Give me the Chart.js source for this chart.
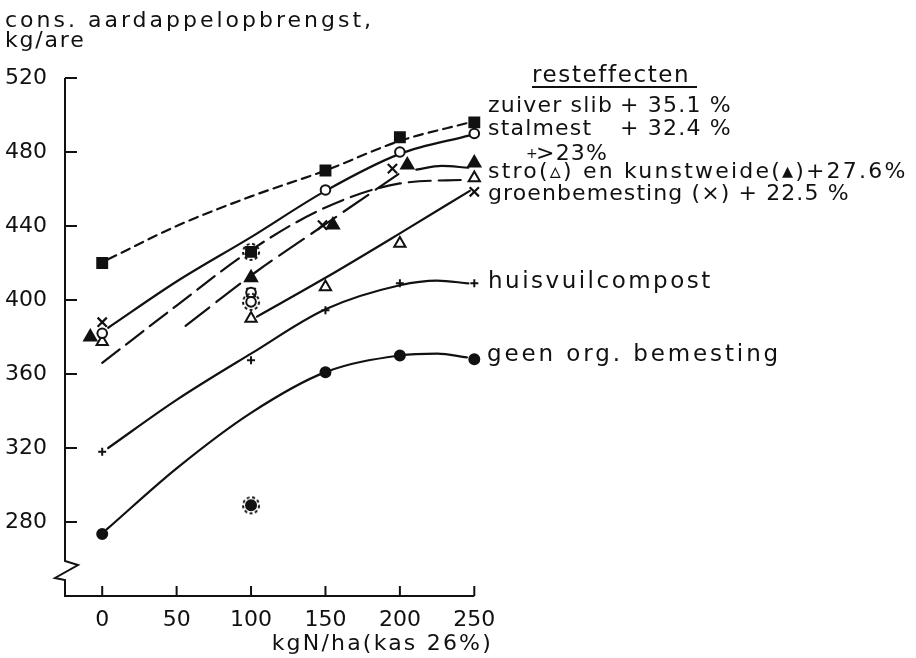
<!DOCTYPE html>
<html>
<head>
<meta charset="utf-8">
<script src="https://cdn.jsdelivr.net/npm/chart.js@4.4.0/dist/chart.umd.min.js"></script>
<style>
  html, body { margin: 0; padding: 0; background: #fff; }
</style>
</head>
<body>
<canvas id="chart" width="916" height="658"></canvas>
<script>
const xTicks = [0, 50, 100, 150, 200, 250];
const yTicks = [280, 320, 360, 400, 440, 480, 520];

// waarnemingen [kg N/ha, kg/are]
const zuiverSlib = [[0, 420], [100, 426], [150, 470], [200, 488], [250, 496]];
const stalmest = [[0, 382], [100, 404], [100, 399], [150, 459.5], [200, 480], [250, 490]];
const stro = [[0, 377.5], [100, 390], [150, 407], [200, 430.5], [250, 466]];
const kunstweide = [[-8, 380], [100, 412], [155, 440.5], [205, 473], [250, 474]];
const groenbemesting = [[0, 388], [100, 404], [148, 440.5], [195, 471], [250, 458.5]];
const huisvuil = [[0, 318], [100, 367.5], [150, 394.5], [200, 409], [250, 409]];
const geenOrg = [[0, 273.5], [100, 289], [150, 361], [200, 370], [250, 368]];
// omcirkelde (afwijkende) waarnemingen
const omcirkeld = [[100, 426], [100, 399], [100, 289]];

// getrokken lijnen
const slibLijn = [[4, 422], [50, 440], [100, 456], [150, 470], [200, 486], [247, 496]];
const stalmestLijn = [[4, 385], [50, 410], [100, 434], [150, 459], [200, 479], [247, 489]];
const stroLijn = [[0, 366], [50, 397], [100, 427], [150, 450], [200, 463], [245, 465]];
const kunstweideLijn = [[56, 386], [103, 415], [150, 441], [199, 468]];
const kunstweideBoog = [[211, 470.5], [228, 472.5], [246, 471.5]];
const groenLijn = [[104, 391], [150, 412], [200, 436], [247, 459]];
const huisvuilLijn = [[4, 320], [50, 346], [100, 371], [150, 395], [200, 408], [225, 410.5], [246, 409]];
const geenOrgLijn = [[3, 276], [50, 309], [100, 339], [150, 361], [200, 370], [225, 371], [245, 369]];

const ink = '#111';
const fam = '"DejaVu Sans", sans-serif';

function pts(a) {
  return a.map(p => ({ x: p[0], y: p[1] }));
}

function markerSet(data, style, radius, filled, bw) {
  return {
    type: 'scatter',
    data: pts(data),
    pointStyle: style,
    pointRadius: radius,
    pointBackgroundColor: filled ? ink : '#fff',
    pointBorderColor: ink,
    pointBorderWidth: bw || 2,
    clip: false,
    order: 1
  };
}

function curve(data, dash) {
  return {
    type: 'line',
    data: pts(data),
    showLine: true,
    borderColor: ink,
    borderWidth: 2.2,
    borderDash: dash || [],
    borderCapStyle: 'round',
    pointRadius: 0,
    cubicInterpolationMode: 'monotone',
    fill: false,
    clip: false,
    order: 2
  };
}

// gestippelde cirkel rond afwijkende punten
function ring(r) {
  const c = document.createElement('canvas');
  const s = 2 * r + 4;
  c.width = s; c.height = s;
  const g = c.getContext('2d');
  g.strokeStyle = ink;
  g.lineWidth = 2;
  g.setLineDash([3, 2.5]);
  g.beginPath();
  g.arc(s / 2, s / 2, r, 0, Math.PI * 2);
  g.stroke();
  return c;
}

const assen = {
  id: 'assen',
  afterDraw(chart) {
    const { ctx, scales: { x, y } } = chart;
    const left = x.getPixelForValue(x.min);
    const right = x.getPixelForValue(250);
    const top = y.getPixelForValue(520);
    const bottom = y.getPixelForValue(y.min);
    ctx.save();
    ctx.strokeStyle = ink;
    ctx.lineWidth = 2;
    ctx.lineJoin = 'miter';

    // y-as met onderbreking
    ctx.beginPath();
    ctx.moveTo(left, top);
    ctx.lineTo(left, 561);
    ctx.lineTo(left + 13, 565);
    ctx.lineTo(left - 10, 578);
    ctx.lineTo(left, 580);
    ctx.lineTo(left, bottom);
    ctx.lineTo(right, bottom);
    ctx.stroke();

    ctx.beginPath();
    yTicks.forEach(v => {
      const py = y.getPixelForValue(v);
      ctx.moveTo(left, py);
      ctx.lineTo(left + 12, py);
    });
    xTicks.forEach(v => {
      const px = x.getPixelForValue(v);
      ctx.moveTo(px, bottom);
      ctx.lineTo(px, bottom - 10);
    });
    ctx.stroke();

    // teksten
    ctx.fillStyle = ink;
    ctx.textBaseline = 'alphabetic';
    const put = (s, px, py, size, sp, align) => {
      ctx.font = size + 'px ' + fam;
      ctx.letterSpacing = sp + 'px';
      ctx.textAlign = align || 'left';
      ctx.fillText(s, px, py);
    };
    put('cons. aardappelopbrengst,', 5, 27, 22, 3);
    put('kg/are', 5, 47, 22, 1.8);

    put('resteffecten', 532, 82, 23, 1.6);
    ctx.beginPath();
    ctx.moveTo(532, 87);
    ctx.lineTo(697, 87);
    ctx.stroke();

    put('zuiver slib', 488, 112, 22, 1.2);
    put('+ 35.1 %', 620, 112, 22, 1.2);
    put('stalmest', 488, 135, 22, 1.2);
    put('+ 32.4 %', 620, 135, 22, 1.2);
    put('+', 526, 158, 14, 0);
    put('>23%', 536, 160, 22, 1.2);
    put('stro(▵) en kunstweide(▴)+27.6%', 488, 178, 22, 2.2);
    put('groenbemesting (×) + 22.5 %', 488, 200, 22, 1.1);
    put('huisvuilcompost', 488, 288, 23, 2.5);
    put('geen org. bemesting', 487, 361, 23, 2.9);

    put('kgN/ha(kas 26%)', 493, 650, 22, 2.2, 'right');
    ctx.restore();
  }
};

new Chart(document.getElementById('chart'), {
  type: 'scatter',
  data: {
    datasets: [
      markerSet(zuiverSlib, 'rect', 7, true),
      markerSet(stalmest, 'circle', 4.8, false),
      markerSet(stro, 'triangle', 6.5, false),
      markerSet(kunstweide, 'triangle', 7, true),
      markerSet(groenbemesting, 'crossRot', 6.5, false, 2.2),
      markerSet(huisvuil, 'cross', 4, false, 2),
      markerSet(geenOrg, 'circle', 5, true),
      {
        type: 'scatter',
        data: pts(omcirkeld),
        pointStyle: ring(8),
        pointRadius: 10,
        clip: false,
        order: 0
      },
      curve(slibLijn, [9, 6]),
      curve(stalmestLijn),
      curve(stroLijn, [22, 8]),
      curve(kunstweideLijn, [30, 9]),
      curve(kunstweideBoog),
      curve(groenLijn),
      curve(huisvuilLijn),
      curve(geenOrgLijn)
    ]
  },
  options: {
    responsive: false,
    animation: false,
    devicePixelRatio: 1,
    layout: { padding: { left: 0, right: 441.7, top: 78, bottom: 0 } },
    plugins: { legend: { display: false }, tooltip: { enabled: false } },
    scales: {
      x: {
        type: 'linear',
        min: -25,
        max: 250,
        grid: { display: false },
        border: { display: false },
        afterFit: s => { s.height = 62; },
        afterBuildTicks: s => { s.ticks = xTicks.map(v => ({ value: v })); },
        ticks: { color: ink, font: { family: fam, size: 22 }, padding: 3, maxRotation: 0 }
      },
      y: {
        type: 'linear',
        min: 240,
        max: 520,
        grid: { display: false },
        border: { display: false },
        afterFit: s => { s.width = 65; },
        afterBuildTicks: s => { s.ticks = yTicks.map(v => ({ value: v })); },
        ticks: { color: ink, font: { family: fam, size: 22 }, padding: 10 }
      }
    }
  },
  plugins: [assen]
});
</script>
</body>
</html>
